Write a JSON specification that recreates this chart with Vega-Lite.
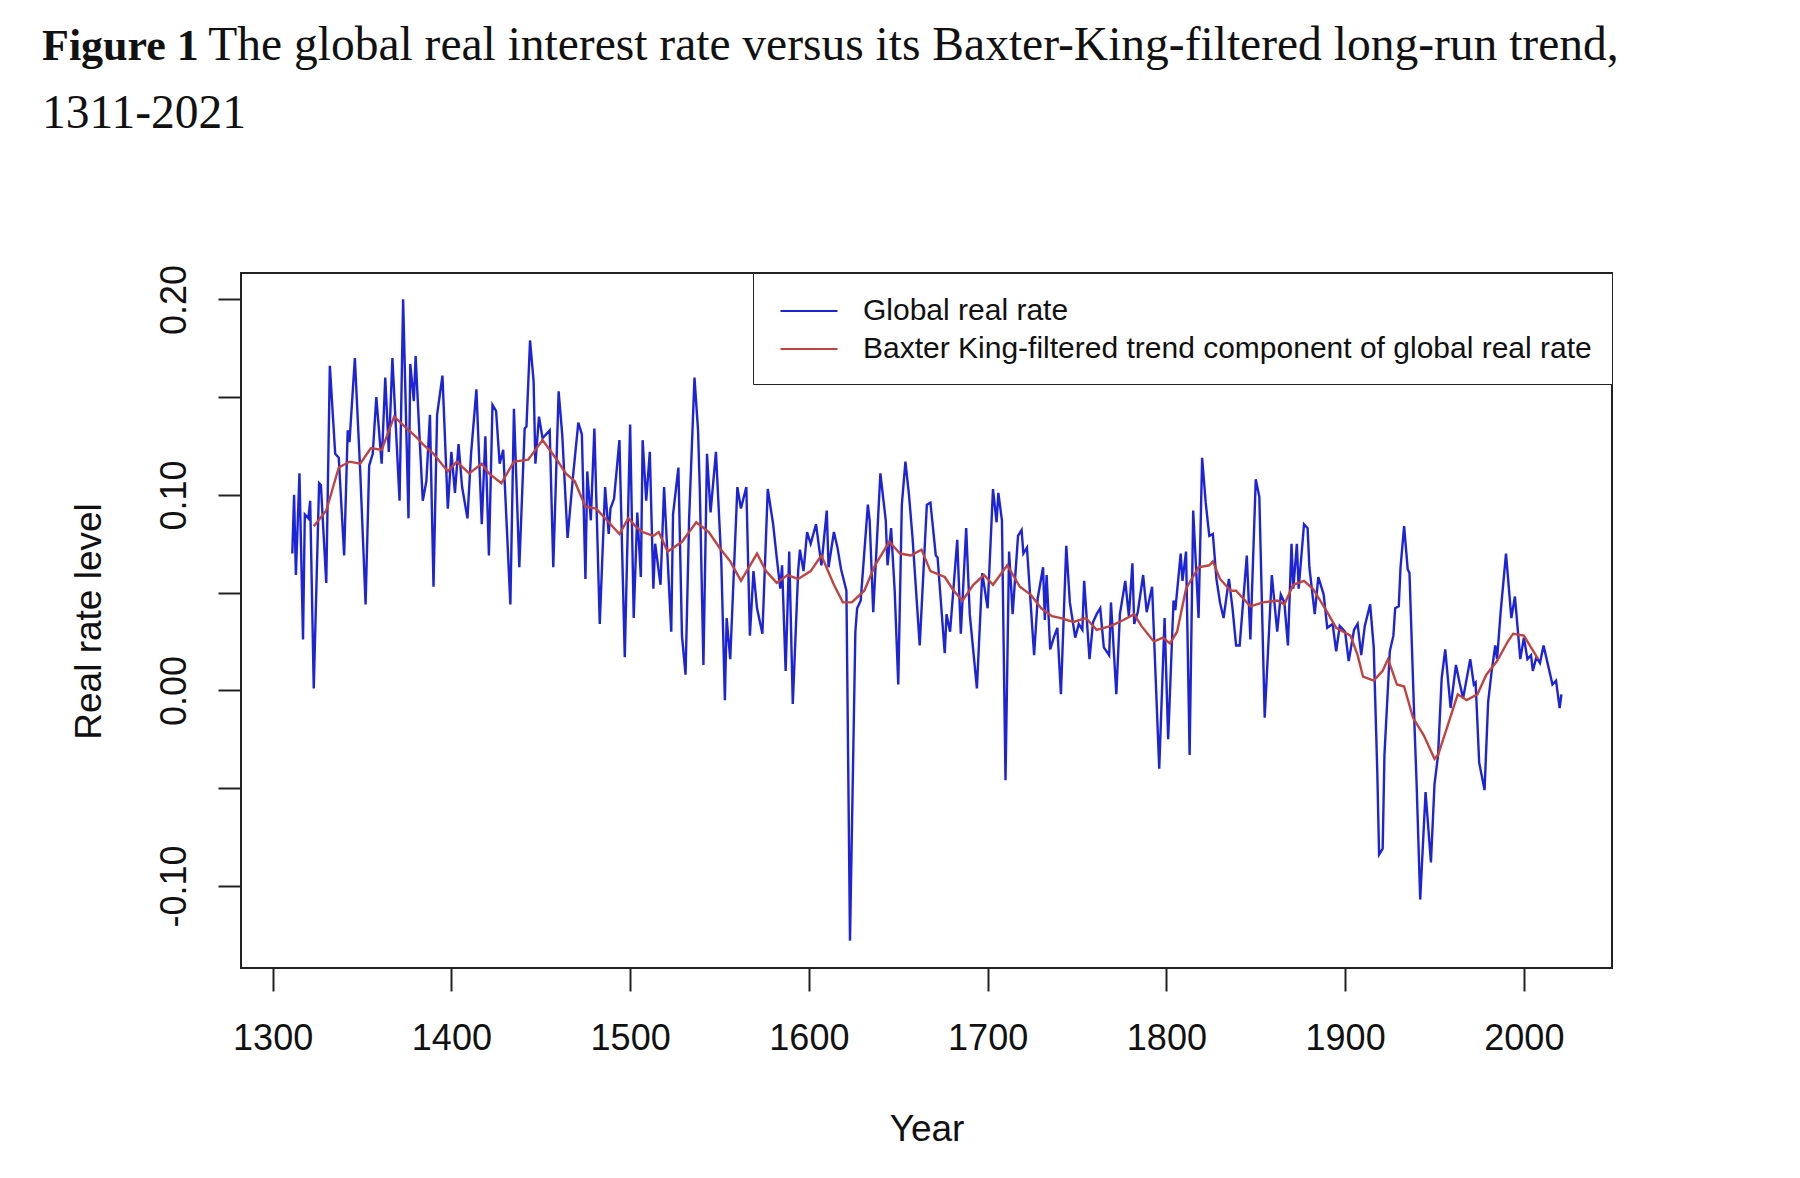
{
  "$schema": "https://vega.github.io/schema/vega-lite/v6.json",
  "description": "Global real interest rate vs its Baxter-King trend, 1311-2021",
  "width": 1371,
  "height": 695,
  "autosize": {"type": "none"},
  "padding": {"left": 241, "top": 273, "right": 188, "bottom": 210},
  "background": "white",
  "title": {
    "text": "Figure 1",
    "subtitle": [
      "\u200b\u00a0\u00a0\u00a0\u00a0\u00a0\u00a0\u00a0\u00a0\u00a0\u00a0\u00a0\u00a0\u00a0\u00a0The global real interest rate versus its Baxter-King-filtered long-run trend,",
      "1311-2021"
    ],
    "anchor": "start",
    "frame": "group",
    "dx": -199,
    "offset": 124,
    "limit": 1800,
    "font": "Liberation Serif",
    "fontSize": 44,
    "fontWeight": "bold",
    "color": "#111",
    "subtitleFont": "Liberation Serif",
    "subtitleFontSize": 47.5,
    "subtitleFontWeight": "normal",
    "subtitleColor": "#111",
    "subtitleLineHeight": 68,
    "subtitlePadding": -47
  },
  "datasets": {
    "rate": [
      {"year":1311,"rate":0.070},{"year":1312,"rate":0.100},{"year":1313,"rate":0.059},{"year":1315,"rate":0.111},
      {"year":1317,"rate":0.026},{"year":1318,"rate":0.090},{"year":1320,"rate":0.088},{"year":1321,"rate":0.097},
      {"year":1323,"rate":0.001},{"year":1326,"rate":0.106},{"year":1327,"rate":0.105},{"year":1330,"rate":0.055},
      {"year":1332,"rate":0.166},{"year":1335,"rate":0.121},{"year":1337,"rate":0.119},{"year":1340,"rate":0.069},
      {"year":1342,"rate":0.133},{"year":1343,"rate":0.127},{"year":1346,"rate":0.170},{"year":1349,"rate":0.112},
      {"year":1352,"rate":0.044},{"year":1354,"rate":0.115},{"year":1356,"rate":0.121},{"year":1358,"rate":0.150},
      {"year":1361,"rate":0.116},{"year":1363,"rate":0.160},{"year":1365,"rate":0.122},{"year":1367,"rate":0.170},
      {"year":1371,"rate":0.097},{"year":1373,"rate":0.200},{"year":1376,"rate":0.088},{"year":1377,"rate":0.167},
      {"year":1379,"rate":0.148},{"year":1380,"rate":0.171},{"year":1382,"rate":0.133},{"year":1384,"rate":0.097},
      {"year":1386,"rate":0.107},{"year":1388,"rate":0.141},{"year":1390,"rate":0.053},{"year":1392,"rate":0.141},
      {"year":1395,"rate":0.161},{"year":1398,"rate":0.093},{"year":1400,"rate":0.122},{"year":1402,"rate":0.101},
      {"year":1404,"rate":0.126},{"year":1406,"rate":0.104},{"year":1409,"rate":0.088},{"year":1411,"rate":0.121},
      {"year":1414,"rate":0.154},{"year":1417,"rate":0.085},{"year":1419,"rate":0.130},{"year":1421,"rate":0.069},
      {"year":1423,"rate":0.146},{"year":1425,"rate":0.143},{"year":1427,"rate":0.116},{"year":1429,"rate":0.123},
      {"year":1433,"rate":0.044},{"year":1435,"rate":0.144},{"year":1438,"rate":0.063},{"year":1441,"rate":0.134},
      {"year":1442,"rate":0.135},{"year":1444,"rate":0.179},{"year":1446,"rate":0.158},{"year":1447,"rate":0.116},
      {"year":1449,"rate":0.140},{"year":1451,"rate":0.129},{"year":1455,"rate":0.133},{"year":1457,"rate":0.063},
      {"year":1460,"rate":0.153},{"year":1462,"rate":0.131},{"year":1465,"rate":0.078},{"year":1468,"rate":0.109},
      {"year":1471,"rate":0.137},{"year":1473,"rate":0.131},{"year":1475,"rate":0.057},{"year":1476,"rate":0.112},
      {"year":1478,"rate":0.087},{"year":1480,"rate":0.134},{"year":1483,"rate":0.034},{"year":1486,"rate":0.104},
      {"year":1488,"rate":0.080},{"year":1489,"rate":0.093},{"year":1491,"rate":0.098},{"year":1494,"rate":0.128},
      {"year":1497,"rate":0.017},{"year":1500,"rate":0.136},{"year":1502,"rate":0.037},{"year":1504,"rate":0.091},
      {"year":1506,"rate":0.058},{"year":1507,"rate":0.128},{"year":1509,"rate":0.097},{"year":1511,"rate":0.122},
      {"year":1513,"rate":0.052},{"year":1514,"rate":0.075},{"year":1517,"rate":0.054},{"year":1519,"rate":0.104},
      {"year":1523,"rate":0.030},{"year":1524,"rate":0.090},{"year":1527,"rate":0.114},{"year":1529,"rate":0.028},
      {"year":1531,"rate":0.008},{"year":1533,"rate":0.088},{"year":1536,"rate":0.160},{"year":1538,"rate":0.133},
      {"year":1539,"rate":0.102},{"year":1541,"rate":0.013},{"year":1543,"rate":0.121},{"year":1545,"rate":0.091},
      {"year":1548,"rate":0.122},{"year":1551,"rate":0.066},{"year":1553,"rate":-0.005},{"year":1554,"rate":0.037},
      {"year":1556,"rate":0.016},{"year":1560,"rate":0.104},{"year":1562,"rate":0.093},{"year":1565,"rate":0.104},
      {"year":1567,"rate":0.028},{"year":1569,"rate":0.061},{"year":1571,"rate":0.042},{"year":1574,"rate":0.029},
      {"year":1577,"rate":0.103},{"year":1580,"rate":0.085},{"year":1582,"rate":0.068},{"year":1584,"rate":0.052},
      {"year":1585,"rate":0.064},{"year":1587,"rate":0.010},{"year":1589,"rate":0.071},{"year":1591,"rate":-0.007},
      {"year":1594,"rate":0.061},{"year":1595,"rate":0.072},{"year":1597,"rate":0.061},{"year":1599,"rate":0.081},
      {"year":1601,"rate":0.075},{"year":1604,"rate":0.085},{"year":1607,"rate":0.064},{"year":1610,"rate":0.092},
      {"year":1611,"rate":0.063},{"year":1614,"rate":0.081},{"year":1616,"rate":0.073},{"year":1618,"rate":0.062},
      {"year":1621,"rate":0.051},{"year":1623,"rate":-0.128},{"year":1626,"rate":0.030},{"year":1627,"rate":0.042},
      {"year":1629,"rate":0.046},{"year":1633,"rate":0.095},{"year":1634,"rate":0.087},{"year":1636,"rate":0.040},
      {"year":1640,"rate":0.111},{"year":1643,"rate":0.087},{"year":1644,"rate":0.064},{"year":1646,"rate":0.083},
      {"year":1648,"rate":0.051},{"year":1650,"rate":0.003},{"year":1652,"rate":0.095},{"year":1654,"rate":0.117},
      {"year":1656,"rate":0.100},{"year":1658,"rate":0.078},{"year":1662,"rate":0.023},{"year":1666,"rate":0.095},
      {"year":1668,"rate":0.096},{"year":1671,"rate":0.069},{"year":1672,"rate":0.068},{"year":1676,"rate":0.019},
      {"year":1677,"rate":0.039},{"year":1679,"rate":0.030},{"year":1683,"rate":0.077},{"year":1685,"rate":0.029},
      {"year":1688,"rate":0.083},{"year":1690,"rate":0.039},{"year":1694,"rate":0.001},{"year":1697,"rate":0.060},
      {"year":1700,"rate":0.042},{"year":1703,"rate":0.103},{"year":1705,"rate":0.086},{"year":1706,"rate":0.101},
      {"year":1708,"rate":0.087},{"year":1710,"rate":-0.046},{"year":1712,"rate":0.071},{"year":1714,"rate":0.039},
      {"year":1717,"rate":0.079},{"year":1719,"rate":0.082},{"year":1720,"rate":0.070},{"year":1722,"rate":0.073},
      {"year":1726,"rate":0.018},{"year":1728,"rate":0.047},{"year":1731,"rate":0.063},{"year":1732,"rate":0.036},
      {"year":1733,"rate":0.059},{"year":1735,"rate":0.021},{"year":1737,"rate":0.027},{"year":1739,"rate":0.032},
      {"year":1741,"rate":-0.002},{"year":1744,"rate":0.074},{"year":1746,"rate":0.045},{"year":1749,"rate":0.027},
      {"year":1751,"rate":0.034},{"year":1753,"rate":0.031},{"year":1754,"rate":0.056},{"year":1757,"rate":0.016},
      {"year":1759,"rate":0.035},{"year":1761,"rate":0.039},{"year":1763,"rate":0.042},{"year":1765,"rate":0.022},
      {"year":1768,"rate":0.018},{"year":1769,"rate":0.045},{"year":1772,"rate":-0.002},{"year":1774,"rate":0.039},
      {"year":1777,"rate":0.056},{"year":1779,"rate":0.038},{"year":1781,"rate":0.065},{"year":1782,"rate":0.034},
      {"year":1784,"rate":0.040},{"year":1787,"rate":0.059},{"year":1789,"rate":0.040},{"year":1792,"rate":0.053},
      {"year":1796,"rate":-0.040},{"year":1799,"rate":0.037},{"year":1801,"rate":-0.025},{"year":1804,"rate":0.046},
      {"year":1805,"rate":0.041},{"year":1808,"rate":0.070},{"year":1809,"rate":0.056},{"year":1811,"rate":0.071},
      {"year":1813,"rate":-0.033},{"year":1815,"rate":0.092},{"year":1818,"rate":0.037},{"year":1820,"rate":0.119},
      {"year":1822,"rate":0.096},{"year":1824,"rate":0.079},{"year":1826,"rate":0.080},{"year":1828,"rate":0.057},
      {"year":1830,"rate":0.045},{"year":1832,"rate":0.037},{"year":1835,"rate":0.057},{"year":1837,"rate":0.042},
      {"year":1839,"rate":0.023},{"year":1841,"rate":0.023},{"year":1845,"rate":0.069},{"year":1847,"rate":0.026},
      {"year":1850,"rate":0.108},{"year":1852,"rate":0.099},{"year":1855,"rate":-0.014},{"year":1859,"rate":0.059},
      {"year":1862,"rate":0.030},{"year":1864,"rate":0.049},{"year":1866,"rate":0.045},{"year":1868,"rate":0.023},
      {"year":1870,"rate":0.075},{"year":1871,"rate":0.052},{"year":1873,"rate":0.075},{"year":1874,"rate":0.052},
      {"year":1877,"rate":0.085},{"year":1879,"rate":0.083},{"year":1880,"rate":0.063},{"year":1883,"rate":0.039},
      {"year":1885,"rate":0.058},{"year":1888,"rate":0.049},{"year":1890,"rate":0.032},{"year":1893,"rate":0.034},
      {"year":1895,"rate":0.020},{"year":1897,"rate":0.033},{"year":1900,"rate":0.030},{"year":1902,"rate":0.015},
      {"year":1905,"rate":0.031},{"year":1907,"rate":0.034},{"year":1909,"rate":0.018},{"year":1911,"rate":0.033},
      {"year":1914,"rate":0.044},{"year":1916,"rate":0.022},{"year":1918,"rate":-0.042},{"year":1919,"rate":-0.084},
      {"year":1921,"rate":-0.081},{"year":1922,"rate":-0.033},{"year":1925,"rate":0.020},{"year":1927,"rate":0.028},
      {"year":1928,"rate":0.042},{"year":1930,"rate":0.043},{"year":1931,"rate":0.063},{"year":1933,"rate":0.084},
      {"year":1935,"rate":0.062},{"year":1936,"rate":0.060},{"year":1939,"rate":-0.023},{"year":1940,"rate":-0.048},
      {"year":1942,"rate":-0.107},{"year":1945,"rate":-0.052},{"year":1948,"rate":-0.088},{"year":1950,"rate":-0.048},
      {"year":1952,"rate":-0.033},{"year":1954,"rate":0.006},{"year":1956,"rate":0.021},{"year":1959,"rate":-0.009},
      {"year":1962,"rate":0.013},{"year":1964,"rate":0.004},{"year":1966,"rate":-0.004},{"year":1970,"rate":0.016},
      {"year":1972,"rate":0.003},{"year":1973,"rate":0.004},{"year":1975,"rate":-0.037},{"year":1978,"rate":-0.051},
      {"year":1980,"rate":-0.006},{"year":1982,"rate":0.010},{"year":1984,"rate":0.023},{"year":1985,"rate":0.016},
      {"year":1987,"rate":0.040},{"year":1990,"rate":0.070},{"year":1993,"rate":0.037},{"year":1995,"rate":0.048},
      {"year":1998,"rate":0.016},{"year":2000,"rate":0.027},{"year":2002,"rate":0.016},{"year":2004,"rate":0.018},
      {"year":2005,"rate":0.010},{"year":2007,"rate":0.017},{"year":2009,"rate":0.014},{"year":2011,"rate":0.023},
      {"year":2014,"rate":0.011},{"year":2016,"rate":0.003},{"year":2018,"rate":0.005},{"year":2020,"rate":-0.009},
      {"year":2021,"rate":-0.002}
    ],
    "trend": [
      {"year":1323,"trend":0.084},{"year":1330,"trend":0.092},{"year":1337,"trend":0.114},{"year":1343,"trend":0.117},
      {"year":1349,"trend":0.116},{"year":1355,"trend":0.124},{"year":1361,"trend":0.123},{"year":1368,"trend":0.140},
      {"year":1375,"trend":0.134},{"year":1381,"trend":0.129},{"year":1384,"trend":0.126},{"year":1390,"trend":0.121},
      {"year":1398,"trend":0.112},{"year":1403,"trend":0.117},{"year":1410,"trend":0.111},{"year":1417,"trend":0.116},
      {"year":1421,"trend":0.111},{"year":1428,"trend":0.106},{"year":1435,"trend":0.117},{"year":1443,"trend":0.118},
      {"year":1451,"trend":0.128},{"year":1459,"trend":0.118},{"year":1464,"trend":0.111},{"year":1469,"trend":0.107},
      {"year":1475,"trend":0.094},{"year":1481,"trend":0.093},{"year":1487,"trend":0.087},{"year":1494,"trend":0.080},
      {"year":1499,"trend":0.088},{"year":1504,"trend":0.083},{"year":1507,"trend":0.081},{"year":1513,"trend":0.079},
      {"year":1516,"trend":0.081},{"year":1521,"trend":0.071},{"year":1529,"trend":0.076},{"year":1537,"trend":0.086},
      {"year":1544,"trend":0.081},{"year":1550,"trend":0.073},{"year":1556,"trend":0.066},{"year":1562,"trend":0.056},
      {"year":1571,"trend":0.070},{"year":1576,"trend":0.061},{"year":1582,"trend":0.055},{"year":1588,"trend":0.059},
      {"year":1594,"trend":0.057},{"year":1601,"trend":0.061},{"year":1607,"trend":0.069},{"year":1614,"trend":0.054},
      {"year":1619,"trend":0.045},{"year":1624,"trend":0.045},{"year":1631,"trend":0.051},{"year":1637,"trend":0.064},
      {"year":1645,"trend":0.076},{"year":1651,"trend":0.070},{"year":1657,"trend":0.069},{"year":1663,"trend":0.072},
      {"year":1668,"trend":0.061},{"year":1676,"trend":0.058},{"year":1681,"trend":0.051},{"year":1686,"trend":0.046},
      {"year":1692,"trend":0.054},{"year":1698,"trend":0.059},{"year":1703,"trend":0.054},{"year":1711,"trend":0.064},
      {"year":1718,"trend":0.053},{"year":1724,"trend":0.049},{"year":1730,"trend":0.042},{"year":1736,"trend":0.038},
      {"year":1741,"trend":0.037},{"year":1748,"trend":0.035},{"year":1755,"trend":0.037},{"year":1761,"trend":0.031},
      {"year":1769,"trend":0.033},{"year":1776,"trend":0.036},{"year":1782,"trend":0.039},{"year":1786,"trend":0.033},
      {"year":1793,"trend":0.025},{"year":1798,"trend":0.027},{"year":1802,"trend":0.024},{"year":1806,"trend":0.030},
      {"year":1811,"trend":0.052},{"year":1818,"trend":0.063},{"year":1824,"trend":0.064},{"year":1826,"trend":0.066},
      {"year":1830,"trend":0.057},{"year":1836,"trend":0.051},{"year":1839,"trend":0.051},{"year":1847,"trend":0.043},
      {"year":1854,"trend":0.045},{"year":1862,"trend":0.046},{"year":1866,"trend":0.044},{"year":1871,"trend":0.054},
      {"year":1877,"trend":0.056},{"year":1882,"trend":0.052},{"year":1890,"trend":0.040},{"year":1895,"trend":0.032},
      {"year":1903,"trend":0.028},{"year":1907,"trend":0.018},{"year":1910,"trend":0.007},{"year":1916,"trend":0.005},
      {"year":1921,"trend":0.010},{"year":1924,"trend":0.016},{"year":1929,"trend":0.003},{"year":1933,"trend":0.002},
      {"year":1938,"trend":-0.014},{"year":1944,"trend":-0.023},{"year":1950,"trend":-0.035},{"year":1952,"trend":-0.033},
      {"year":1957,"trend":-0.019},{"year":1963,"trend":-0.002},{"year":1968,"trend":-0.005},{"year":1974,"trend":-0.002},
      {"year":1979,"trend":0.008},{"year":1985,"trend":0.015},{"year":1991,"trend":0.025},{"year":1994,"trend":0.029},
      {"year":2000,"trend":0.028},{"year":2004,"trend":0.022},{"year":2008,"trend":0.016}
    ]
  },
  "layer": [
    {
      "data": {"name": "rate"},
      "mark": {"type": "line", "strokeWidth": 2.4},
      "encoding": {
        "x": {
          "field": "year",
          "type": "quantitative",
          "scale": {"domain": [1282.3, 2049.3], "nice": false, "zero": false},
          "axis": {
            "values": [1300, 1400, 1500, 1600, 1700, 1800, 1900, 2000],
            "format": "d",
            "labelFontSize": 36,
            "labelPadding": 30,
            "labelFlush": false,
            "labelOverlap": false,
            "tickSize": 23,
            "tickWidth": 2,
            "tickColor": "#222",
            "domain": false,
            "grid": false,
            "title": "Year",
            "titleFontSize": 37,
            "titleFontWeight": "normal",
            "titleX": 685.5,
            "titleY": 143,
            "titleBaseline": "top",
            "titleAlign": "center"
          }
        },
        "y": {
          "field": "rate",
          "type": "quantitative",
          "scale": {"domain": [-0.142, 0.2135], "nice": false, "zero": false},
          "axis": {
            "values": [-0.1, -0.05, 0, 0.05, 0.1, 0.15, 0.2],
            "labelExpr": "round(datum.value * 20) % 2 == 0 ? (datum.value < 0 ? '-' + format(abs(datum.value), '.2f') : format(datum.value, '.2f')) : ''",
            "labelAngle": -90,
            "labelAlign": "center",
            "labelBaseline": "bottom",
            "labelFontSize": 36,
            "labelPadding": 25,
            "labelFlush": false,
            "labelOverlap": false,
            "tickSize": 23,
            "tickWidth": 2,
            "tickColor": "#222",
            "domain": false,
            "grid": false,
            "title": "Real rate level",
            "titleFontSize": 37,
            "titleFontWeight": "normal",
            "titleAngle": -90,
            "titleX": -133,
            "titleY": 348,
            "titleBaseline": "bottom",
            "titleAlign": "center"
          }
        },
        "color": {
          "datum": "Global real rate",
          "type": "nominal",
          "scale": {
            "domain": ["Global real rate", "Baxter King-filtered trend component of global real rate"],
            "range": ["#1d24d8", "#c0443e"]
          },
          "legend": {
            "orient": "top-right",
            "offset": 0,
            "title": null,
            "symbolType": "M-1.676,0L1.676,0",
            "symbolSize": 1156,
            "symbolOffset": 18,
            "labelOffset": 36,
            "labelFontSize": 30,
            "labelLimit": 0,
            "labelColor": "#111",
            "padding": 20,
            "rowPadding": 5,
            "strokeColor": "#222",
            "fillColor": "white"
          }
        }
      }
    },
    {
      "data": {"name": "trend"},
      "mark": {"type": "line", "strokeWidth": 2.4},
      "encoding": {
        "x": {"field": "year", "type": "quantitative"},
        "y": {"field": "trend", "type": "quantitative"},
        "color": {"datum": "Baxter King-filtered trend component of global real rate", "type": "nominal"}
      }
    }
  ],
  "config": {
    "font": "Liberation Sans",
    "view": {"stroke": "#222", "strokeWidth": 2},
    "axis": {"labelColor": "#111", "titleColor": "#111", "labelFont": "Liberation Sans", "titleFont": "Liberation Sans"},
    "legend": {"labelFont": "Liberation Sans", "symbolStrokeWidth": 2}
  }
}
